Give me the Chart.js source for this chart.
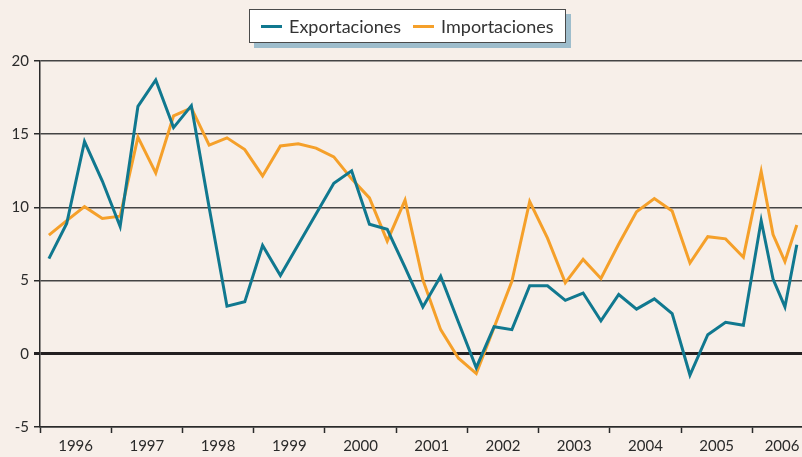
<!DOCTYPE html>
<html lang="es">
<head>
<meta charset="utf-8">
<title>Exportaciones e importaciones</title>
<script src="https://cdn.jsdelivr.net/npm/chart.js@4.4.1/dist/chart.umd.min.js"></script>
<style>
  html, body { margin: 0; padding: 0; background: #f7efe9; }
  #wrap { position: relative; width: 802px; height: 457px; }
  #legend {
    position: absolute; left: 249px; top: 9px; height: 34px;
    box-sizing: border-box; padding: 0 11px;
    display: flex; align-items: center;
    background: #fff; border: 1.5px solid #4a4a4a;
    box-shadow: 5px 5px 0 #9ebdcc;
    font: 18px Lato, sans-serif; color: #333;
  }
  #legend .item { display: flex; align-items: center; margin-right: 12px; }
  #legend .item:last-child { margin-right: 0; }
  #legend .swatch { width: 21px; height: 3px; margin-right: 7px; }
</style>
</head>
<body>
<div id="wrap">
  <canvas id="chart" width="802" height="457"></canvas>
  <div id="legend"></div>
</div>
<script>
// ---- data ----
const periods = [
    '1996-T1', '1996-T2', '1996-T3', '1996-T4',
    '1997-T1', '1997-T2', '1997-T3', '1997-T4',
    '1998-T1', '1998-T2', '1998-T3', '1998-T4',
    '1999-T1', '1999-T2', '1999-T3', '1999-T4',
    '2000-T1', '2000-T2', '2000-T3', '2000-T4',
    '2001-T1', '2001-T2', '2001-T3', '2001-T4',
    '2002-T1', '2002-T2', '2002-T3', '2002-T4',
    '2003-T1', '2003-T2', '2003-T3', '2003-T4',
    '2004-T1', '2004-T2', '2004-T3', '2004-T4',
    '2005-T1', '2005-T2', '2005-T3', '2005-T4',
    '2006-T1', '2006-M4', '2006-M6', '2006-M8'
];

const exportaciones = [
    6.5, 8.9, 14.5, 11.8,
    8.7, 16.9, 18.7, 15.45,
    16.95, 10.0, 3.25, 3.55,
    7.4, 5.35, 7.45, 9.55,
    11.65, 12.5, 8.85, 8.5,
    5.9, 3.2, 5.3, 2.15,
    -0.95, 1.85, 1.65, 4.65,
    4.65, 3.65, 4.15, 2.25,
    4.05, 3.05, 3.75, 2.75,
    -1.45, 1.3, 2.15, 1.95,
    9.1, 5.1, 3.2, 7.45
];

const importaciones = [
    8.1, 9.1, 10.05, 9.25,
    9.4, 14.8, 12.35, 16.25,
    16.8, 14.25, 14.75, 13.95,
    12.15, 14.2, 14.35, 14.05,
    13.45, 11.95, 10.65, 7.7,
    10.5, 5.05, 1.65, -0.3,
    -1.35, 1.8, 4.95, 10.4,
    7.9, 4.85, 6.45, 5.15,
    7.5, 9.7, 10.6, 9.75,
    6.2, 8.0, 7.85, 6.6,
    12.45, 8.15, 6.3, 8.8
];

const years = ['1996', '1997', '1998', '1999', '2000', '2001', '2002', '2003', '2004', '2005', '2006'];
const yTicks = [-5, 0, 5, 10, 15, 20];

// ---- look ----
const BLUE = '#10788f';
const ORANGE = '#f5a02a';
const INK = '#2a2a2a';
const GRID = '#444';
const X_MIN = 1996;
const X_MAX = 2006.698;   // the plot runs off the right edge mid-2006

function font(size) {
    return { family: 'Lato, sans-serif', size: size };
}

// '1996-T3' -> middle of the quarter, '2006-M6' -> middle of the month
function toYear(p) {
    const [y, part] = p.split('-');
    const n = Number(part.slice(1));
    return part[0] === 'T' ? Number(y) + (n - 0.5) / 4 : Number(y) + (n - 0.5) / 12;
}

function series(values) {
    return values.map((v, i) => ({ x: toYear(periods[i]), y: v }));
}

// labels sit in the middle of each year, tick marks on the year boundaries
function yearTicks() {
    const labels = years.map(y => ({ value: Math.min(Number(y) + 0.5, X_MAX - 0.28), text: y }));
    const marks = years.map(y => ({ value: Number(y), text: '' }));
    return labels.concat(marks);
}

new Chart(document.getElementById('chart'), {
    type: 'line',
    data: {
        datasets: [
            {
                label: 'Exportaciones', data: series(exportaciones),
                borderColor: BLUE, borderWidth: 3, pointRadius: 0,
                tension: 0, borderJoinStyle: 'miter'
            },
            {
                label: 'Importaciones', data: series(importaciones),
                borderColor: ORANGE, borderWidth: 3, pointRadius: 0,
                tension: 0, borderJoinStyle: 'miter'
            }
        ]
    },
    options: {
        responsive: false, animation: false,
        layout: { padding: { top: 61, left: 0, right: 0, bottom: 0 } },
        plugins: { legend: { display: false }, tooltip: { enabled: false } },
        scales: {
            x: {
                type: 'linear', min: X_MIN, max: X_MAX,
                afterBuildTicks: scale => { scale.ticks = yearTicks(); },
                afterFit: scale => { scale.height = 30; },
                grid: {
                    drawOnChartArea: false, tickLength: 6, tickWidth: 1.5,
                    tickColor: ctx => (ctx.tick && ctx.tick.text) ? 'transparent' : INK
                },
                border: { color: INK, width: 1.5 },
                ticks: {
                    autoSkip: false, maxRotation: 0, padding: 4,
                    color: INK, font: font(15),
                    callback: (v, i, ticks) => ticks[i].text
                }
            },
            y: {
                min: -5, max: 20,
                afterBuildTicks: scale => { scale.ticks = yTicks.map(v => ({ value: v })); },
                afterFit: scale => { scale.width = 40; },
                grid: {
                    color: ctx => ctx.tick.value === 0 ? '#231f20' : GRID,
                    lineWidth: ctx => ctx.tick.value === 0 ? 3 : 1.5,
                    tickLength: 6,
                    tickWidth: ctx => ctx.tick.value === 0 ? 3 : 1.5,
                    tickColor: ctx => ctx.tick.value === 0 ? '#231f20' : INK
                },
                border: { color: INK, width: 1.5 },
                ticks: { padding: 5, color: INK, font: font(15) }
            }
        }
    }
});

// legend box with its offset shadow
const legend = document.getElementById('legend');
[['Exportaciones', BLUE], ['Importaciones', ORANGE]].forEach(([name, color]) => {
    const item = document.createElement('div');
    item.className = 'item';
    item.innerHTML = `<span class="swatch" style="background:${color}"></span><span>${name}</span>`;
    legend.appendChild(item);
});
</script>
</body>
</html>
